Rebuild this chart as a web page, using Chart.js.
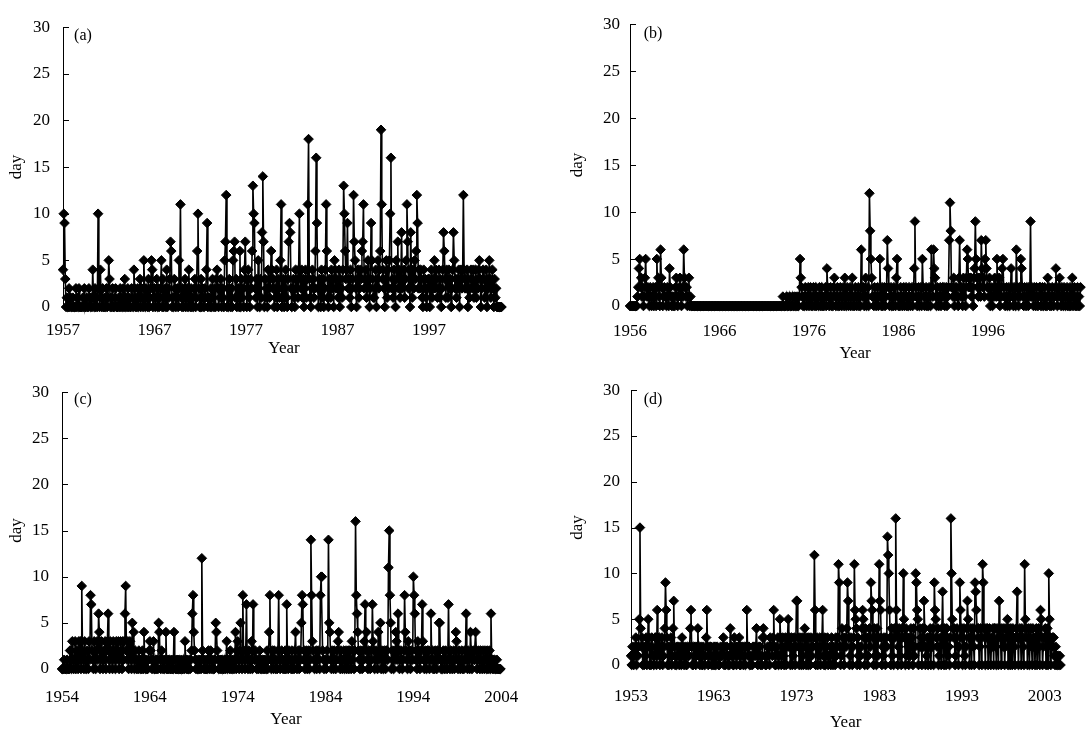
<!DOCTYPE html>
<html>
<head>
<meta charset="utf-8">
<script src="https://cdn.jsdelivr.net/npm/chart.js@4.4.0/dist/chart.umd.min.js"></script>
<style>
  body { margin: 0; background: #fff; width: 1086px; height: 732px; overflow: hidden; position: relative; }
  canvas { position: absolute; }
  .tag { position: absolute; font: 16px "Liberation Serif", serif; color: #000; transform: translate(-50%, -50%); }
</style>
</head>
<body>
<canvas id="panel-a"></canvas>
<canvas id="panel-b"></canvas>
<canvas id="panel-c"></canvas>
<canvas id="panel-d"></canvas>
<span class="tag" style="left:83px;top:35px">(a)</span>
<span class="tag" style="left:653px;top:33px">(b)</span>
<span class="tag" style="left:83px;top:399px">(c)</span>
<span class="tag" style="left:653px;top:399px">(d)</span>
<script>
// monthly counts, one row per year (Jan..Dec)
const startA = 1957;
const valuesA = [
  4,10,9,3,0,1,0,0,2,0,1,0,   // 1957
  0,1,0,0,0,2,0,1,0,2,0,0,
  0,0,1,0,2,0,0,1,0,0,2,1,
  0,1,0,4,1,0,2,0,1,0,10,2,   // 1960
  0,4,1,0,2,0,0,1,0,2,0,1,
  5,3,0,1,0,2,0,0,1,2,0,0,
  0,1,0,2,0,1,0,2,0,3,0,1,
  0,2,0,1,0,0,2,1,0,4,2,0,
  1,0,2,0,1,3,0,2,1,0,5,2,
  0,2,1,0,3,0,1,2,5,4,0,1,
  2,0,1,3,0,2,0,1,2,5,0,3,    // 1967
  0,1,2,0,4,0,2,1,3,7,6,0,
  1,0,3,2,0,1,2,0,5,2,11,1,
  0,2,0,1,3,0,1,2,0,4,1,0,    // 1970
  2,0,1,0,2,3,0,1,6,10,2,0,
  0,3,0,2,1,0,2,1,4,9,0,1,
  1,0,2,0,3,1,0,2,0,3,4,2,
  0,2,1,3,0,2,1,0,5,7,12,0,
  2,0,3,1,0,2,0,5,6,7,1,3,
  0,1,2,0,6,0,3,1,2,0,4,7,
  3,0,2,4,1,0,3,2,6,13,10,9,  // 1977
  2,1,3,0,5,2,0,3,1,8,14,7,
  0,3,1,2,0,4,2,1,3,6,4,2,
  3,0,2,1,4,0,3,2,1,5,11,0,   // 1980
  1,3,0,2,4,1,0,3,7,9,8,2,
  0,2,3,1,0,4,2,3,1,4,10,3,
  2,4,1,3,0,2,4,1,3,11,18,3,
  1,0,2,4,3,1,2,6,16,9,2,0,
  3,2,0,4,1,3,0,2,4,11,6,1,
  0,3,2,1,4,2,3,0,5,4,2,3,
  2,1,4,0,3,2,1,4,13,10,6,3,  // 1987
  4,9,2,3,1,4,0,2,3,12,7,5,
  2,0,3,4,1,2,4,3,6,7,11,2,
  3,4,1,2,5,3,0,2,9,5,3,1,    // 1990
  1,2,4,0,3,5,2,4,6,19,11,3,
  4,2,0,3,5,1,4,2,5,10,16,2,
  3,1,4,2,0,5,3,7,2,4,1,3,
  8,2,3,4,1,3,5,11,7,2,4,0,
  8,3,1,4,2,5,3,6,12,9,2,4,
  2,4,3,1,0,4,2,3,1,0,2,3,
  3,0,2,4,1,3,2,5,2,4,3,1,    // 1997
  2,4,1,3,0,2,4,8,6,3,1,4,
  3,1,4,2,3,0,2,4,8,5,2,3,
  1,3,2,4,0,3,4,2,3,12,4,2,   // 2000
  3,2,4,0,3,1,2,4,3,2,4,1,
  2,4,1,3,2,4,5,3,0,2,3,4,
  3,1,2,4,0,3,2,5,3,1,2,4,
  2,0,3,1,2,0,0,0,0,0,0,0     // 2004
];

const startB = 1956;
const valuesB = [
  0,0,0,0,0,0,0,0,0,0,1,2,    // 1956
  4,5,2,3,1,2,0,1,3,5,2,1,
  2,1,0,2,1,0,1,2,0,1,2,0,
  5,2,3,1,0,6,3,2,0,1,2,1,
  1,0,2,1,0,4,2,1,0,1,0,1,    // 1960
  0,2,3,1,0,1,2,3,1,0,2,1,
  6,3,2,1,2,0,1,3,0,1,0,0,
  0,0,0,0,0,0,0,0,0,0,0,0,    // 1963
  0,0,0,0,0,0,0,0,0,0,0,0,
  0,0,0,0,0,0,0,0,0,0,0,0,
  0,0,0,0,0,0,0,0,0,0,0,0,
  0,0,0,0,0,0,0,0,0,0,0,0,
  0,0,0,0,0,0,0,0,0,0,0,0,
  0,0,0,0,0,0,0,0,0,0,0,0,
  0,0,0,0,0,0,0,0,0,0,0,0,    // 1970
  0,0,0,0,0,0,0,0,0,0,0,0,
  0,0,0,0,0,0,0,0,0,0,0,0,
  0,1,0,0,0,0,1,0,0,0,1,0,    // 1973
  0,0,1,0,0,1,0,0,1,0,0,1,
  5,3,2,1,0,1,0,2,1,0,1,2,
  0,1,2,0,1,0,2,1,0,2,0,1,
  1,0,2,1,0,2,0,1,0,1,2,0,
  4,2,1,0,1,2,0,1,0,2,3,1,
  0,1,2,0,1,0,2,1,0,1,2,0,
  3,1,0,2,1,0,1,2,0,1,3,0,    // 1980
  1,0,2,1,0,1,2,0,1,0,6,2,
  1,2,0,1,3,0,1,2,0,12,8,5,
  3,1,1,0,2,1,0,1,2,0,1,5,
  1,0,2,0,1,2,0,1,2,7,4,2,
  0,1,2,0,1,0,2,1,0,3,5,1,
  0,1,0,2,1,0,1,2,0,1,2,0,
  1,0,2,1,0,1,2,0,1,4,9,2,
  1,0,1,2,0,1,2,0,5,2,1,0,
  1,2,0,1,0,2,1,0,6,2,1,6,
  4,3,1,0,2,1,0,1,2,0,1,2,    // 1990
  1,2,0,1,2,0,1,2,7,11,8,2,
  2,1,3,0,2,1,2,1,0,3,7,2,
  1,2,0,3,1,2,0,3,6,5,2,3,
  2,3,1,2,0,3,4,9,5,3,2,1,
  3,2,1,7,4,2,3,1,5,7,4,2,
  2,1,3,0,2,1,0,2,1,3,2,1,
  5,2,1,3,0,2,1,4,5,2,1,0,
  1,2,0,1,2,0,1,4,2,1,0,2,
  1,0,6,2,1,0,2,1,5,4,2,1,
  0,2,1,0,2,1,0,2,1,9,1,2,    // 2000
  1,0,2,1,0,2,1,0,1,2,2,0,
  1,2,0,1,2,0,1,0,3,1,2,0,
  1,0,2,1,0,1,2,4,1,0,2,1,
  3,1,0,2,1,0,2,1,0,1,2,0,
  1,0,2,0,1,3,0,1,2,0,1,0,
  2,0,1,0,2,1,0,1,0,2,1,0     // 2006
];

const startC = 1954;
const valuesC = [
  0,0,0,1,0,0,0,1,0,0,0,2,    // 1954
  2,0,3,1,0,1,3,0,1,2,0,3,
  1,3,0,9,2,1,0,3,1,0,2,1,
  0,3,1,8,7,2,1,0,3,1,0,2,
  3,1,6,4,0,2,3,1,0,2,1,3,
  0,2,3,6,1,0,3,1,2,0,3,1,
  2,0,3,1,2,3,0,1,3,2,0,3,    // 1960
  1,3,6,9,2,1,3,0,2,3,1,0,
  5,1,4,0,2,1,0,1,0,2,1,0,
  1,0,2,0,4,1,0,1,0,0,1,2,
  3,2,1,0,1,3,0,0,1,0,1,0,
  5,4,1,0,2,1,0,1,0,1,4,0,
  0,1,0,1,0,0,1,0,0,4,1,0,
  0,1,0,0,1,0,0,1,0,0,1,0,
  3,1,0,1,0,0,1,0,1,2,6,8,
  4,2,1,0,1,0,0,1,0,1,0,12,
  2,1,0,1,0,0,1,0,2,1,0,2,    // 1970
  1,0,1,0,0,1,5,4,2,1,0,1,
  0,1,0,1,0,0,1,0,1,3,0,1,
  1,0,2,0,1,0,1,0,1,4,0,2,
  3,1,0,2,5,1,0,8,2,1,0,2,
  7,1,0,2,1,0,1,3,0,7,2,1,
  2,1,0,1,0,1,2,0,1,0,1,0,
  1,0,1,0,2,0,1,4,8,1,0,2,
  1,0,2,1,0,1,0,2,8,1,0,1,
  2,1,0,1,0,2,0,7,1,0,2,1,
  1,0,2,0,1,0,2,4,1,0,1,2,    // 1980
  0,2,1,5,8,7,1,2,0,1,2,0,
  1,2,0,1,14,8,3,2,1,0,1,2,
  0,1,2,1,0,8,10,10,2,1,0,1,
  1,0,2,1,14,5,4,1,0,2,1,0,
  2,1,0,1,2,3,4,1,0,2,1,0,
  1,2,0,1,2,0,1,2,0,2,1,0,
  3,1,2,0,2,16,8,6,4,2,1,0,
  2,1,0,2,1,3,7,2,4,1,0,2,
  1,0,2,1,7,3,2,0,1,2,1,0,
  4,1,2,5,0,2,1,0,2,1,0,2,    // 1990
  2,1,11,15,8,5,0,2,1,0,2,1,
  4,3,1,6,2,0,1,2,1,0,1,2,
  8,4,2,1,0,3,1,2,0,1,2,1,
  10,8,6,1,2,0,3,1,2,0,1,2,
  7,3,1,0,2,1,0,2,1,2,0,1,
  6,1,2,0,1,0,2,1,0,2,1,5,
  5,1,0,1,0,2,1,0,2,1,0,1,
  7,1,0,2,1,0,1,2,0,1,4,3,
  1,0,2,1,0,1,2,0,1,0,2,1,
  6,1,0,2,1,0,4,2,0,1,2,1,    // 2000
  1,4,2,0,1,2,1,0,2,1,0,2,
  1,0,2,1,0,2,0,1,2,0,6,1,
  0,1,0,1,0,0,1,0,0,0,0,0     // 2003
];

const startD = 1953;
const valuesD = [
  1,0,2,1,0,2,1,3,0,2,1,2,    // 1953
  5,15,4,2,3,0,2,0,2,1,3,0,
  2,5,3,0,2,0,3,2,1,0,1,3,
  3,0,6,1,2,3,0,2,1,3,0,1,
  2,4,9,6,3,0,2,0,2,1,3,0,
  1,4,7,2,0,1,0,2,1,2,0,1,
  2,0,3,1,2,0,1,2,0,0,2,1,
  1,2,4,6,2,0,0,2,1,2,0,1,    // 1960
  2,4,1,2,0,1,2,0,0,2,1,0,
  1,3,6,2,0,1,2,1,2,0,1,0,
  2,0,2,0,1,2,1,0,0,1,2,1,
  1,2,3,0,2,0,1,2,1,0,1,0,
  4,2,1,2,0,0,3,1,2,0,2,1,
  2,3,0,0,2,1,2,0,1,2,0,2,
  6,2,1,2,0,1,0,1,0,2,1,2,
  1,2,4,1,0,2,1,2,0,1,0,3,
  4,3,1,0,0,1,2,1,2,0,3,2,
  2,1,3,6,2,0,0,2,1,3,0,1,    // 1970
  5,3,0,2,3,1,0,2,3,0,2,3,
  5,2,3,0,2,3,0,1,2,3,0,2,
  7,7,3,2,0,3,2,0,3,1,0,3,
  4,2,0,3,2,0,3,1,0,3,1,2,
  2,3,12,6,0,2,3,0,2,1,3,0,
  2,3,6,1,0,3,0,2,1,3,0,1,
  1,2,0,3,2,0,2,1,0,3,1,2,
  3,11,9,2,0,1,4,2,3,0,2,3,
  2,4,9,7,3,0,1,3,2,0,2,3,
  11,6,5,4,0,3,1,2,0,1,2,4,   // 1980
  6,5,3,0,4,1,3,0,1,3,4,2,
  9,7,6,3,0,4,1,3,0,4,1,3,
  11,7,6,3,0,2,1,3,2,0,3,2,
  14,12,10,6,3,0,4,1,3,0,4,3,
  16,6,4,0,2,4,1,3,0,4,3,10,
  5,3,0,4,1,3,2,0,3,1,4,2,
  3,0,4,1,2,10,9,6,5,0,2,4,
  2,3,0,4,2,7,4,0,2,1,3,0,
  3,2,4,0,3,2,4,0,9,6,5,3,
  2,4,0,1,2,3,0,4,8,3,0,4,    // 1990
  3,0,4,3,1,2,0,3,16,10,5,4,
  3,4,0,1,3,4,2,0,2,9,6,3,
  4,0,3,4,1,0,2,4,7,5,3,0,
  3,4,0,3,4,2,0,9,8,6,4,3,
  4,0,2,4,3,0,11,9,4,3,0,4,
  3,4,0,3,4,2,0,3,2,4,0,4,
  4,2,0,4,3,0,7,4,3,0,4,3,
  2,4,0,2,4,3,5,0,4,3,0,4,
  3,0,4,3,2,0,3,4,8,3,0,3,
  4,3,0,4,3,2,0,11,5,3,4,0,   // 2000
  3,4,0,3,4,2,0,4,2,3,0,3,
  4,0,3,4,2,0,6,5,3,0,2,3,
  3,4,0,3,4,0,10,5,3,0,2,3,
  2,3,1,0,2,0,1,0,1,0,1,0     // 2004
];

const ticksA = [1957, 1967, 1977, 1987, 1997];
const ticksB = [1956, 1966, 1976, 1986, 1996];
const ticksC = [1954, 1964, 1974, 1984, 1994, 2004];
const ticksD = [1953, 1963, 1973, 1983, 1993, 2003];

const serif = '"Liberation Serif", "Times New Roman", serif';

// short tick marks pointing into the plot, as in the original
const innerTicks = {
  id: 'innerTicks',
  afterDraw(chart) {
    const { ctx, chartArea, scales: { y } } = chart;
    ctx.save();
    ctx.strokeStyle = '#000';
    ctx.lineWidth = 1;
    y.ticks.forEach(t => {
      const py = Math.round(y.getPixelForValue(t.value)) + 0.5;
      ctx.beginPath();
      ctx.moveTo(chartArea.left, py);
      ctx.lineTo(chartArea.left + 6, py);
      ctx.stroke();
    });
    ctx.restore();
  }
};

function drawPanel(id, box, start, values, yearTicks, xMax) {
  const canvas = document.getElementById(id);
  canvas.width = box.width;
  canvas.height = box.height;
  canvas.style.left = box.left + 'px';
  canvas.style.top = box.top + 'px';

  const points = values.map((v, i) => ({ x: start + i / 12, y: v }));

  return new Chart(canvas, {
    type: 'line',
    data: {
      datasets: [{
        data: points,
        borderColor: '#000',
        borderWidth: 1.6,
        pointStyle: 'rectRot',
        pointRadius: 4.8,
        pointBorderWidth: 1,
        pointBackgroundColor: '#000',
        pointBorderColor: '#000',
        tension: 0,
        clip: false
      }]
    },
    options: {
      responsive: false,
      animation: false,
      events: [],
      layout: { padding: { top: 12, right: box.padRight, left: 0, bottom: 0 } },
      plugins: { legend: { display: false }, tooltip: { enabled: false } },
      scales: {
        x: {
          type: 'linear',
          min: start,
          max: xMax,
          afterBuildTicks: axis => { axis.ticks = yearTicks.map(v => ({ value: v })); },
          afterFit: s => { s.height = box.xh; },
          grid: { display: false },
          border: { display: false },
          ticks: {
            autoSkip: false,
            maxRotation: 0,
            padding: box.xPad,
            color: '#000',
            font: { family: serif, size: 17 },
            callback: v => String(v)
          },
          title: {
            display: true,
            text: 'Year',
            color: '#000',
            font: { family: serif, size: 17 },
            padding: { top: 0, bottom: 4 }
          }
        },
        y: {
          min: 0,
          max: 30,
          afterFit: s => { s.width = box.yw; },
          grid: { display: true, drawOnChartArea: false, drawTicks: false },
          border: { display: true, color: '#000', width: 1 },
          ticks: {
            stepSize: 5,
            padding: box.yPad,
            color: '#000',
            font: { family: serif, size: 17 }
          },
          title: {
            display: true,
            text: 'day',
            color: '#000',
            font: { family: serif, size: 17 },
            padding: { top: 6, bottom: 0 }
          }
        }
      }
    },
    plugins: [innerTicks]
  });
}

drawPanel('panel-a', { left: 0, top: 4, width: 515, height: 359, padRight: 10, yw: 63, xh: 56, xPad: 5, yPad: 13 },
  startA, valuesA, ticksA, 2005.3);
drawPanel('panel-b', { left: 561, top: 4, width: 525, height: 364, padRight: 0, yw: 69, xh: 62, xPad: 7, yPad: 10 },
  startB, valuesB, ticksB, 2006.3);
drawPanel('panel-c', { left: 0, top: 369, width: 530, height: 365, padRight: 20, yw: 62, xh: 65, xPad: 10, yPad: 13 },
  startC, valuesC, ticksC, 2005.0);
drawPanel('panel-d', { left: 561, top: 369, width: 514, height: 368, padRight: 10, yw: 70, xh: 72, xPad: 13, yPad: 11 },
  startD, valuesD, ticksD, 2004.9);
</script>
</body>
</html>
